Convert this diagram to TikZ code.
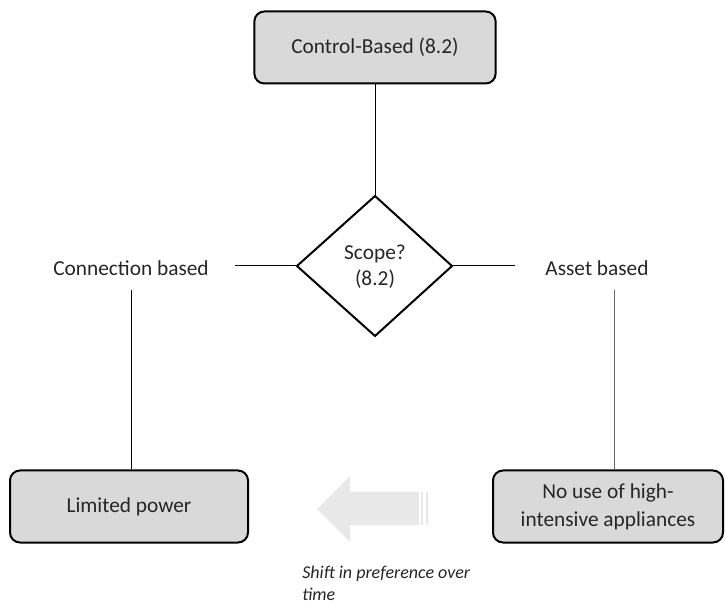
\documentclass[tikz,border=0pt]{standalone}
\usepackage{fontspec}
\setmainfont{Carlito}
\usetikzlibrary{shapes.geometric}
\definecolor{boxfill}{HTML}{D9D9D9}
\definecolor{txt}{HTML}{262626}
\definecolor{arrowgray}{HTML}{E8E8E8}
\begin{document}
\begin{tikzpicture}[x=0.75pt,y=-0.75pt,
  box/.style={draw=black,line width=1.5pt,fill=boxfill,rounded corners=7.5pt,
    minimum width=181pt,minimum height=54pt,inner sep=0pt,align=center,
    text=txt,font=\fontsize{16}{21}\selectfont},
  lbl/.style={text=txt,font=\fontsize{16}{19.5}\selectfont,inner sep=0pt},
  link/.style={draw=black,line width=0.75pt}]
\useasboundingbox (0,0) rectangle (725,609);

\node[box,minimum width=181pt] (top) at (375,47.5) {Control-Based (8.2)};
\coordinate (dt) at (375,196);
\coordinate (dl) at (297,266);
\coordinate (dr) at (452,266);
\coordinate (db) at (375,336);
\draw[line width=1.5pt,fill=white,line join=miter] (dt) -- (dr) -- (db) -- (dl) -- cycle;
\node[lbl,align=center] (scope) at (375,267) {Scope?\\(8.2)};

\node[lbl] (conn) at (131,268) {Connection based};
\node[lbl] (asset) at (597,268) {Asset based};

\node[box,minimum width=178.5pt] (lim) at (129,506.5) {Limited power};
\node[box,minimum width=172.5pt] (nouse) at (608,506.5) {No use of high-\\intensive appliances};

\draw[link] (top.south) -- (dt);
\coordinate (hl) at (235,266);
\coordinate (hr) at (515,266);
\draw[link] (hl) -- (dl);
\draw[link] (dr) -- (hr);
\coordinate (vl) at (131.5,290);
\coordinate (vr) at (614,290);
\draw[link] (vl) -- (vl |- lim.north);
\draw[link,draw=black!60] (vr) -- (vr |- nouse.north);

% shift arrow
\fill[arrowgray] (317,509) -- (350,476) -- (350,492) -- (419,492) -- (419,525) -- (350,525) -- (350,542) -- cycle;
\fill[arrowgray] (421,492) rectangle (423,525);
\fill[arrowgray] (426,492) rectangle (428,525);

\node[lbl,anchor=north west,align=left,font=\fontsize{13.5}{16.5}\selectfont\itshape] (shift) at (302,566) {Shift in preference over\\time};
\end{tikzpicture}
\end{document}
